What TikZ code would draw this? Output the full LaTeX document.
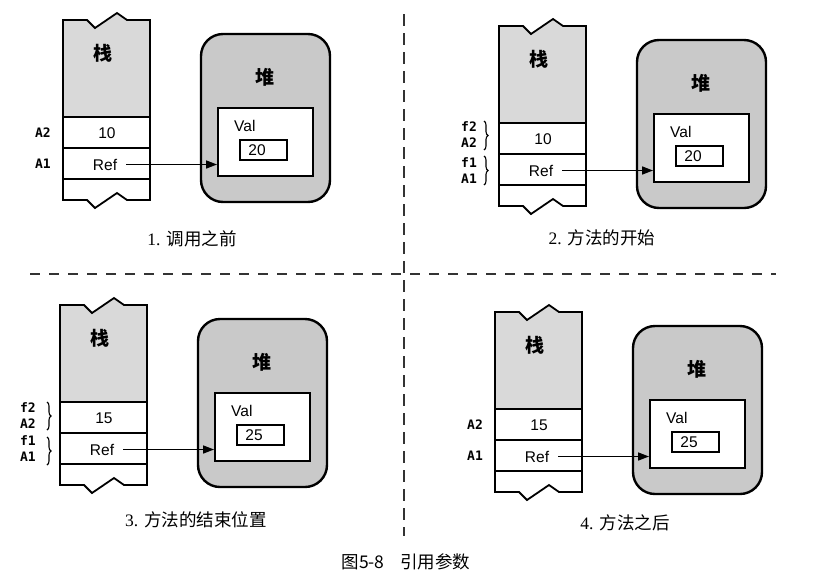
\documentclass[tikz,border=0pt]{standalone}
\usepackage{fontspec}
\setmainfont{Liberation Sans}
\newfontfamily\cjk{Noto Sans CJK SC}
\newfontfamily\monof{DejaVu Sans Mono}
\newfontfamily\seriff{Liberation Serif}
\usetikzlibrary{arrows.meta,decorations.pathreplacing}
\definecolor{stackgray}{gray}{0.85}
\definecolor{heapgray}{gray}{0.79}
\tikzset{
 stackline/.style={line width=1.8pt, line join=miter},
 cellbox/.style={draw, line width=1.8pt, minimum width=87pt, minimum height=31pt, inner sep=0pt},
 heapbox/.style={draw=black, line width=2.4pt, fill=heapgray, rounded corners=22pt, minimum width=129pt, minimum height=168pt, inner sep=0pt},
 innerbox/.style={draw, line width=1.9pt, fill=white, minimum width=95pt, minimum height=68pt, inner sep=0pt},
 valbox/.style={draw, line width=1.8pt, fill=white, minimum width=47pt, minimum height=20pt, inner sep=0pt},
 sanstxt/.style={font=\fontsize{15.5}{15.5}\selectfont, inner sep=0pt},
 cjktitle/.style={font=\cjk\bfseries\fontsize{19}{19}\selectfont, inner sep=0pt},
 monolbl/.style={font=\monof\bfseries\fontsize{13}{16}\selectfont, inner sep=0pt, align=center},
 ptr/.style={line width=1.5pt, -{Triangle[length=11pt,width=8pt]}},
 bracec/.style={decorate, decoration={brace, amplitude=4pt}, line width=1.1pt},
 sep/.style={line width=2pt, black!80},
 captxt/.style={font=\cjk\fontsize{17.5}{17.5}\selectfont, inner sep=0pt},
}
\newcommand\mempanel[5]{%
\begin{scope}[shift={(#2,#3)}]
 \fill[stackgray] (0,0) -- (24,0) -- (32,8) -- (54,-7) -- (64,0) -- (87,0) -- (87,97) -- (0,97) -- cycle;
 \fill[white] (0,97) -- (87,97) -- (87,180) -- (64,180) -- (54,173) -- (32,188) -- (24,180) -- (0,180) -- cycle;
 \draw[stackline] (0,0) -- (24,0) -- (32,8) -- (54,-7) -- (64,0) -- (87,0) -- (87,180) -- (64,180) -- (54,173) -- (32,188) -- (24,180) -- (0,180) -- cycle;
 \node[cellbox] (#1cella) at (43.5,112.5) {};
 \node[cellbox] (#1cellb) at (43.5,143.5) {};
 \node[cjktitle] (#1stk) at (40,33) {栈};
 \node[sanstxt] (#1num) at (44,113) {#4};
 \node[sanstxt] (#1ref) at (42,144.5) {Ref};
 \node[heapbox] (#1heap) at (202.5,98) {};
 \node[cjktitle] (#1hp) at (202,57) {堆};
 \node[innerbox] (#1inner) at (202.5,122) {};
 \node[sanstxt, anchor=west] (#1val) at (171,106) {Val};
 \node[valbox] (#1vbox) at (200.5,130) {};
 \node[sanstxt] (#1vnum) at (194,130) {#5};
 \draw[ptr, shorten <=9pt] (#1ref.east) -- (#1inner.west |- #1ref.east);
\end{scope}}
\begin{document}
\begin{tikzpicture}[x=1pt,y=-1pt]
\useasboundingbox (0,0) rectangle (827,579);
% separators
\coordinate (vt) at (404,14); \coordinate (vb) at (404,536);
\coordinate (hl) at (30,274); \coordinate (hr) at (776,274);
\draw[sep, dash pattern=on 12pt off 7pt] (vt) -- (vb);
\draw[sep, dash pattern=on 10pt off 9pt] (hl) -- (hr);
% panels
\mempanel{pa}{63}{20}{10}{20}
\mempanel{pb}{499}{26}{10}{20}
\mempanel{pc}{60}{305}{15}{25}
\mempanel{pd}{495}{312}{15}{25}
% labels panel 1
\node[monolbl] (pa2) at (43,133) {A2};
\node[monolbl] (pa1) at (43,164) {A1};
% labels panel 2
\coordinate (pbb1t) at (484,121); \coordinate (pbb1b) at (484,150);
\coordinate (pbb2t) at (484,156); \coordinate (pbb2b) at (484,185);
\draw[bracec] (pbb1t) -- (pbb1b);
\draw[bracec] (pbb2t) -- (pbb2b);
\node[monolbl] (pbl2) at (469,135) {f2\\A2};
\node[monolbl] (pbl1) at (469,171) {f1\\A1};
% labels panel 3
\coordinate (pcb1t) at (47,402); \coordinate (pcb1b) at (47,430);
\coordinate (pcb2t) at (47,437); \coordinate (pcb2b) at (47,465);
\draw[bracec] (pcb1t) -- (pcb1b);
\draw[bracec] (pcb2t) -- (pcb2b);
\node[monolbl] (pcl2) at (28,416) {f2\\A2};
\node[monolbl] (pcl1) at (28,449) {f1\\A1};
% labels panel 4
\node[monolbl] (pd2) at (475,425) {A2};
\node[monolbl] (pd1) at (475,456) {A1};
% captions
\node[captxt] (cap1) at (192,239) {{\seriff 1.}\hspace{6pt}调用之前};
\node[captxt] (cap2) at (602,238) {{\seriff 2.}\hspace{6pt}方法的开始};
\node[captxt] (cap3) at (196,520) {{\seriff 3.}\hspace{6pt}方法的结束位置};
\node[captxt] (cap4) at (625,523) {{\seriff 4.}\hspace{6pt}方法之后};
\node[captxt] (figcap) at (406,562) {图5-8\hspace{16pt}引用参数};
\end{tikzpicture}
\end{document}
